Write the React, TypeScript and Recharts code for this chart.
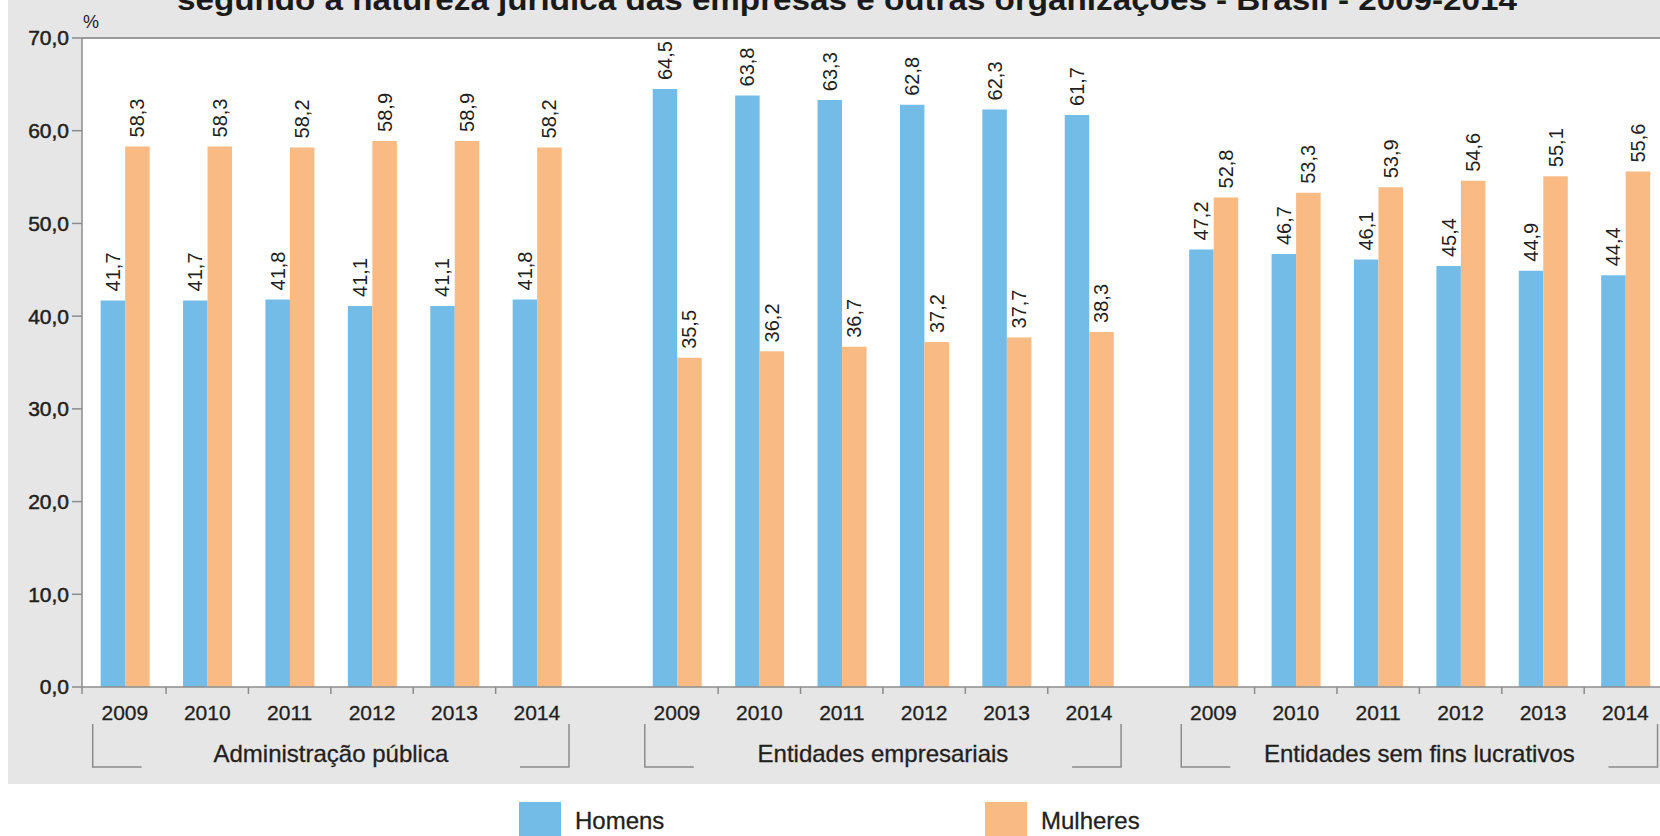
import React from 'react';
import { BarChart, Bar, XAxis, YAxis, CartesianGrid, ReferenceLine, LabelList } from 'recharts';

const years = ['2009', '2010', '2011', '2012', '2013', '2014'];
const groups = ['Administração pública', 'Entidades empresariais', 'Entidades sem fins lucrativos'];

const homensAdm = [41.7, 41.7, 41.8, 41.1, 41.1, 41.8];
const mulheresAdm = [58.3, 58.3, 58.2, 58.9, 58.9, 58.2];
const homensEmp = [64.5, 63.8, 63.3, 62.8, 62.3, 61.7];
const mulheresEmp = [35.5, 36.2, 36.7, 37.2, 37.7, 38.3];
const homensSfl = [47.2, 46.7, 46.1, 45.4, 44.9, 44.4];
const mulheresSfl = [52.8, 53.3, 53.9, 54.6, 55.1, 55.6];

const homens = [homensAdm, homensEmp, homensSfl];
const mulheres = [mulheresAdm, mulheresEmp, mulheresSfl];

const yTicks = [0, 10, 20, 30, 40, 50, 60, 70];

const TITLE = 'segundo a natureza jurídica das empresas e outras organizações - Brasil - 2009-2014';

const BLUE = '#74bce8';
const ORANGE = '#f9ba84';
const INK = '#231f20';
const AXIS = '#8c8c8c';
const FONT = '"Liberation Sans", Arial, Helvetica, sans-serif';

// the three blocks sit on a numeric x axis, one unit per year, with a gap between blocks
const GROUP_OFFSETS = [0, 6.7, 13.21];
const X_DOMAIN: [number, number] = [-0.52, 18.63];
const BRACKET_HALF = 2.89;

const data = groups.flatMap((group, gi) =>
  years.map((year, i) => ({
    pos: GROUP_OFFSETS[gi] + i,
    year,
    group,
    homens: homens[gi][i],
    mulheres: mulheres[gi][i],
  }))
);

type TickRole = { line?: boolean; year?: string; group?: string; corner?: 'left' | 'right' };
const roles = new Map<string, TickRole>();
const addRole = (pos: number, r: TickRole) => {
  const k = pos.toFixed(3);
  roles.set(k, { ...(roles.get(k) || {}), ...r });
};
addRole(X_DOMAIN[0], { line: true });
groups.forEach((g, gi) => {
  const off = GROUP_OFFSETS[gi];
  years.forEach((y, i) => {
    addRole(off + i, { year: y });
    if (i < years.length - 1) addRole(off + i + 0.5, { line: true });
  });
  addRole(off + 2.5, { group: g });
  addRole(off + 2.5 - BRACKET_HALF, { corner: 'left' });
  addRole(off + 2.5 + BRACKET_HALF, { corner: 'right' });
});
const xTicks = Array.from(roles.keys()).map(Number).sort((a, b) => a - b);

const fmt = (v: any) => Number(v).toFixed(1).replace('.', ',');

const XTick = (props: any) => {
  const { x, y, payload } = props;
  const r = roles.get(Number(payload.value).toFixed(3));
  if (!r) return null;
  return (
    <g>
      {r.line && <line x1={x} x2={x} y1={y} y2={y + 7} stroke={AXIS} strokeWidth={1.5} />}
      {r.year && (
        <text x={x} y={y + 33} textAnchor="middle" fontSize={21} fill={INK} stroke={INK} strokeWidth={0.3} fontFamily={FONT}>
          {r.year}
        </text>
      )}
      {r.group && (
        <text x={x} y={y + 75} textAnchor="middle" fontSize={24} fill={INK} stroke={INK} strokeWidth={0.3} fontFamily={FONT}>
          {r.group}
        </text>
      )}
      {r.corner && (
        <path
          d={`M${x},${y + 37}V${y + 80}H${r.corner === 'left' ? x + 49 : x - 49}`}
          fill="none"
          stroke={AXIS}
          strokeWidth={1.5}
        />
      )}
    </g>
  );
};

const ValueLabel = (props: any) => {
  const { x, y, width, value } = props;
  const cx = Number(x) + Number(width) / 2;
  const ty = Number(y) - 9;
  return (
    <text
      x={cx}
      y={ty}
      transform={`rotate(-90 ${cx} ${ty})`}
      textAnchor="start"
      dominantBaseline="central"
      fontSize={20}
      fill={INK}
      fontFamily={FONT}
    >
      {fmt(value)}
    </text>
  );
};

export default function App() {
  return (
    <div
      style={{
        position: 'absolute',
        left: 0,
        top: 0,
        width: 1660,
        height: 836,
        overflow: 'hidden',
        background: '#fff',
        fontFamily: FONT,
      }}
    >
      <div style={{ position: 'absolute', left: 8, top: 0, width: 1652, height: 784, background: '#e6e6e6' }} />
      <div style={{ position: 'absolute', left: 0, top: 0 }}>
        <BarChart
          width={1660}
          height={836}
          data={data}
          margin={{ top: 38, right: 0, bottom: 49, left: 0 }}
          barGap={0}
        >
          <CartesianGrid fill="#ffffff" horizontal={false} vertical={false} stroke="none" />
          <XAxis
            dataKey="pos"
            type="number"
            domain={X_DOMAIN}
            allowDataOverflow
            ticks={xTicks}
            interval={0}
            tick={(p: any) => <XTick {...p} />}
            tickLine={false}
            tickSize={0}
            tickMargin={0}
            height={100}
            axisLine={{ stroke: AXIS, strokeWidth: 1.5 }}
          />
          <YAxis
            type="number"
            domain={[0, 70]}
            allowDataOverflow
            ticks={yTicks}
            interval={0}
            width={82}
            tickSize={10}
            tickMargin={3}
            axisLine={{ stroke: AXIS, strokeWidth: 1.5 }}
            tickLine={{ stroke: AXIS, strokeWidth: 1.5 }}
            tick={{ fontSize: 21, fill: INK, stroke: INK, strokeWidth: 0.5, fontFamily: FONT }}
            tickFormatter={fmt}
          />
          <ReferenceLine y={70} stroke="#9a9a9a" strokeWidth={2} />
          <Bar dataKey="homens" name="Homens" fill={BLUE} barSize={24.5} isAnimationActive={false}>
            <LabelList dataKey="homens" content={(p: any) => <ValueLabel {...p} />} />
          </Bar>
          <Bar dataKey="mulheres" name="Mulheres" fill={ORANGE} barSize={24.5} isAnimationActive={false}>
            <LabelList dataKey="mulheres" content={(p: any) => <ValueLabel {...p} />} />
          </Bar>
        </BarChart>
      </div>
      <svg
        width={1660}
        height={836}
        style={{ position: 'absolute', left: 0, top: 0, pointerEvents: 'none' }}
      >
        <text
          x={847}
          y={10}
          textAnchor="middle"
          fontSize={30}
          fontWeight="bold"
          fill="#1a1a1a"
          fontFamily={FONT}
          textLength={1340}
          lengthAdjust="spacingAndGlyphs"
        >
          {TITLE}
        </text>
        <text x={83} y={28} fontSize={18} fill={INK} fontFamily={FONT}>
          %
        </text>
        <rect x={519} y={802} width={42} height={40} fill={BLUE} />
        <text x={575} y={829} fontSize={24} fill={INK} stroke={INK} strokeWidth={0.3} fontFamily={FONT}>
          Homens
        </text>
        <rect x={985} y={802} width={42} height={40} fill={ORANGE} />
        <text x={1041} y={829} fontSize={24} fill={INK} stroke={INK} strokeWidth={0.3} fontFamily={FONT}>
          Mulheres
        </text>
      </svg>
    </div>
  );
}
